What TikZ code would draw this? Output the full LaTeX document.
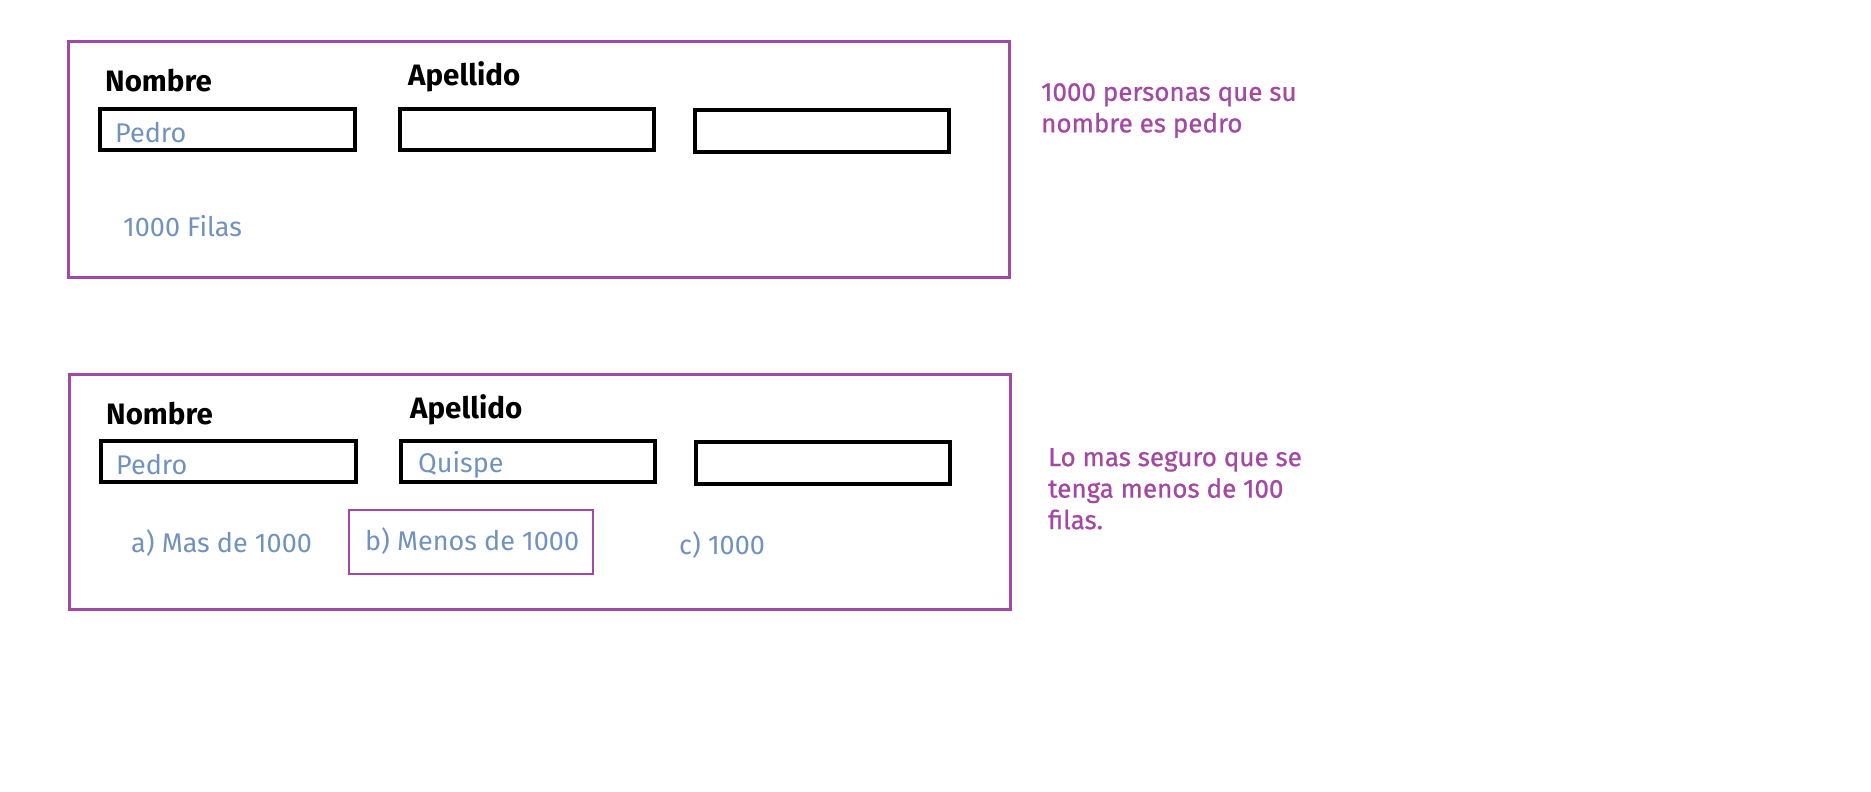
\documentclass[tikz,border=0pt]{standalone}
\usepackage{fontspec}
\setmainfont{Fira Sans}
\newfontfamily\labfont{Fira Sans}
\newfontfamily\valfont{Fira Sans}
\newfontfamily\notefont[FakeBold=0.8]{Fira Sans}
\definecolor{pp}{RGB}{163,73,164}
\definecolor{bl}{RGB}{112,146,190}
\begin{document}
\begin{tikzpicture}[x=1pt,y=-1pt,
  panel/.style={draw=pp,line width=3pt},
  field/.style={draw=black,line width=3.2pt},
  lbl/.style={anchor=west,inner sep=0pt,font=\labfont\fontsize{29.5}{34}\selectfont\bfseries,text=black},
  val/.style={anchor=west,inner sep=0pt,font=\valfont\fontsize{27}{31}\selectfont,text=bl},
  note/.style={anchor=north west,inner sep=0pt,align=left,font=\notefont\fontsize{26}{31.5}\selectfont,text=pp}]
\useasboundingbox (0,0) rectangle (1871,792);
% panel 1
\draw[panel] (68,42) rectangle (1009,277);
\node[lbl] (n1) at (105,81) {Nombre};
\node[lbl] (a1) at (408,77) {Apellido};
\draw[field] (100,109) rectangle (355,150);
\draw[field] (400,109) rectangle (654,150);
\draw[field] (695,110) rectangle (949,152);
\node[val] (p1) at (115,133) {Pedro};
\node[val] (f1) at (123,226) {1000 Filas};
\node[note] (t1) at (1041,83) {1000 personas que su\\nombre es pedro};
% panel 2
\draw[panel] (69,374) rectangle (1010,609);
\node[lbl] (n2) at (106,414) {Nombre};
\node[lbl] (a2) at (410,410) {Apellido};
\draw[field] (101,441) rectangle (356,482);
\draw[field] (401,441) rectangle (655,482);
\draw[field] (696,442) rectangle (950,484);
\node[val] (p2) at (116,465) {Pedro};
\node[val] (q2) at (418,465) {Quispe};
\node[val] (oa) at (131,543) {a) Mas de 1000};
\draw[draw=pp,line width=2.5pt] (349,510) rectangle (593,574);
\node[val] (ob) at (365,541) {b) Menos de 1000};
\node[val] (oc) at (679,545) {c) 1000};
\node[note] (t2) at (1048,448) {Lo mas seguro que se\\tenga menos de 100\\filas.};
\end{tikzpicture}
\end{document}
